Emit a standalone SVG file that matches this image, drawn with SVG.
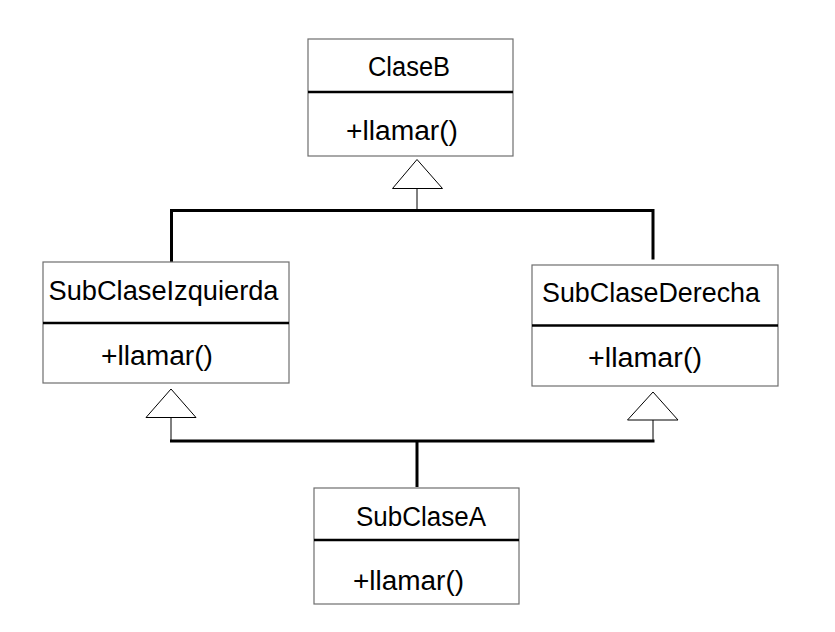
<svg xmlns="http://www.w3.org/2000/svg" width="835" height="632" viewBox="0 0 835 632">
<style>
.box{fill:#fff;stroke:#6e6e6e;stroke-width:1.2}
.div{stroke:#000;stroke-width:2.5}
.t{font-family:"Liberation Sans",Arial,sans-serif;font-size:27px;fill:#000}
.bar{stroke:#000;stroke-width:3;fill:none}
.thin{stroke:#000;stroke-width:1;fill:none}
.tri{fill:#fff;stroke:#000;stroke-width:1}
</style>
<rect width="835" height="632" fill="#fff"/>
<g id="connectors">
<line class="thin" x1="417" y1="188.5" x2="417" y2="210"/>
<path class="bar" d="M171.5,262 V210.5 H653 V259.5"/>
<polygon class="tri" points="417,159.5 392.5,188.5 442.5,188.5"/>
<line class="thin" x1="171" y1="417" x2="171" y2="440"/>
<line class="thin" x1="653" y1="420" x2="653" y2="440"/>
<line class="bar" x1="170" y1="441" x2="654.5" y2="441"/>
<line class="bar" x1="417" y1="441" x2="417" y2="487"/>
<polygon class="tri" points="171,389 146,417.5 196,417.5"/>
<polygon class="tri" points="653,392 627.5,420 678,420"/>
</g>
<g id="ClaseB">
<rect class="box" x="308" y="39" width="205" height="117"/>
<line class="div" x1="308" y1="92" x2="513" y2="92"/>
<text class="t" x="368" y="76" textLength="82" lengthAdjust="spacingAndGlyphs">ClaseB</text>
<text class="t" x="346" y="140" textLength="112" lengthAdjust="spacingAndGlyphs">+llamar()</text>
</g>
<g id="SubClaseIzquierda">
<rect class="box" x="43" y="262" width="246" height="121"/>
<line class="div" x1="43" y1="323" x2="289" y2="323"/>
<text class="t" x="48.5" y="300" textLength="230" lengthAdjust="spacingAndGlyphs">SubClaseIzquierda</text>
<text class="t" x="101" y="365" textLength="112" lengthAdjust="spacingAndGlyphs">+llamar()</text>
</g>
<g id="SubClaseDerecha">
<rect class="box" x="532" y="265" width="246" height="121"/>
<line class="div" x1="532" y1="325.5" x2="778" y2="325.5"/>
<text class="t" x="542" y="301.5" textLength="218" lengthAdjust="spacingAndGlyphs">SubClaseDerecha</text>
<text class="t" x="588" y="367" textLength="114" lengthAdjust="spacingAndGlyphs">+llamar()</text>
</g>
<g id="SubClaseA">
<rect class="box" x="314" y="488" width="205" height="116"/>
<line class="div" x1="314" y1="540" x2="519" y2="540"/>
<text class="t" x="356" y="526" textLength="130" lengthAdjust="spacingAndGlyphs">SubClaseA</text>
<text class="t" x="353" y="590" textLength="111" lengthAdjust="spacingAndGlyphs">+llamar()</text>
</g>
</svg>
